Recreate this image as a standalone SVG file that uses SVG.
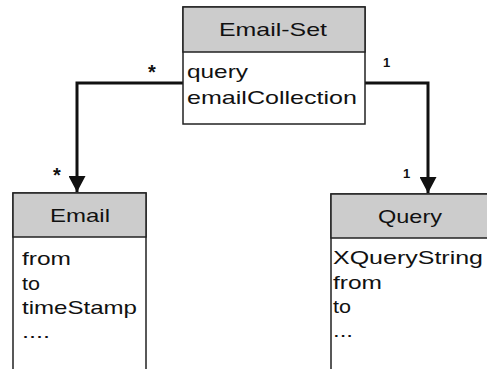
<svg xmlns="http://www.w3.org/2000/svg" width="487" height="369" viewBox="0 0 487 369">
  <style>
    .box { fill: #ffffff; stroke: #222222; stroke-width: 1.5; }
    .head { fill: #cccccc; stroke: #222222; stroke-width: 1.5; }
    .title { font-family: "Liberation Sans", Arial, sans-serif; font-size: 19px; fill: #111111; text-anchor: middle; }
    .attr { font-family: "Liberation Sans", Arial, sans-serif; font-size: 19px; fill: #111111; }
    .mult { font-family: "Liberation Sans", Arial, sans-serif; font-size: 13px; font-weight: bold; fill: #111111; }
    .star { font-family: "Liberation Sans", Arial, sans-serif; font-size: 20px; font-weight: bold; fill: #111111; text-anchor: middle; }
    .wire { fill: none; stroke: #111111; stroke-width: 3; }
  </style>
  <defs>
    <marker id="arrow" markerUnits="userSpaceOnUse" markerWidth="18" markerHeight="17" refX="16" refY="8.5" orient="auto">
      <path d="M0,0 L16,8.5 L0,17 Z" fill="#111111"/>
    </marker>
  </defs>
  <rect width="487" height="369" fill="#ffffff"/>

  <g id="connectors">
    <path class="wire" d="M183,83 H77 V192" marker-end="url(#arrow)"/>
    <path class="wire" d="M365,83 H428 V193" marker-end="url(#arrow)"/>
    <text class="star" x="152" y="79">*</text>
    <text class="star" x="57" y="182">*</text>
    <text class="mult" x="383" y="67">1</text>
    <text class="mult" x="403" y="178">1</text>
  </g>

  <g id="email-set">
    <rect class="box" x="183" y="7" width="182" height="117"/>
    <rect class="head" x="183" y="7" width="182" height="45"/>
    <text class="title" x="273" y="36" textLength="108" lengthAdjust="spacingAndGlyphs">Email-Set</text>
    <text class="attr" x="187" y="78" textLength="61" lengthAdjust="spacingAndGlyphs">query</text>
    <text class="attr" x="187" y="104" textLength="170" lengthAdjust="spacingAndGlyphs">emailCollection</text>
  </g>

  <g id="email">
    <rect class="box" x="13" y="193" width="133" height="190"/>
    <rect class="head" x="13" y="193" width="133" height="44"/>
    <text class="title" x="80" y="222" textLength="60" lengthAdjust="spacingAndGlyphs">Email</text>
    <text class="attr" x="22" y="265" textLength="49" lengthAdjust="spacingAndGlyphs">from</text>
    <text class="attr" x="22" y="290" textLength="18" lengthAdjust="spacingAndGlyphs">to</text>
    <text class="attr" x="22" y="314" textLength="115" lengthAdjust="spacingAndGlyphs">timeStamp</text>
    <text class="attr" x="22" y="338" textLength="28" lengthAdjust="spacingAndGlyphs">....</text>
  </g>

  <g id="query">
    <rect class="box" x="331" y="194" width="170" height="190"/>
    <rect class="head" x="331" y="194" width="170" height="44"/>
    <text class="title" x="410" y="223" textLength="64" lengthAdjust="spacingAndGlyphs">Query</text>
    <text class="attr" x="333" y="264" textLength="150" lengthAdjust="spacingAndGlyphs">XQueryString</text>
    <text class="attr" x="333" y="289" textLength="49" lengthAdjust="spacingAndGlyphs">from</text>
    <text class="attr" x="333" y="313" textLength="18" lengthAdjust="spacingAndGlyphs">to</text>
    <text class="attr" x="333" y="337" textLength="20" lengthAdjust="spacingAndGlyphs">...</text>
  </g>
</svg>
